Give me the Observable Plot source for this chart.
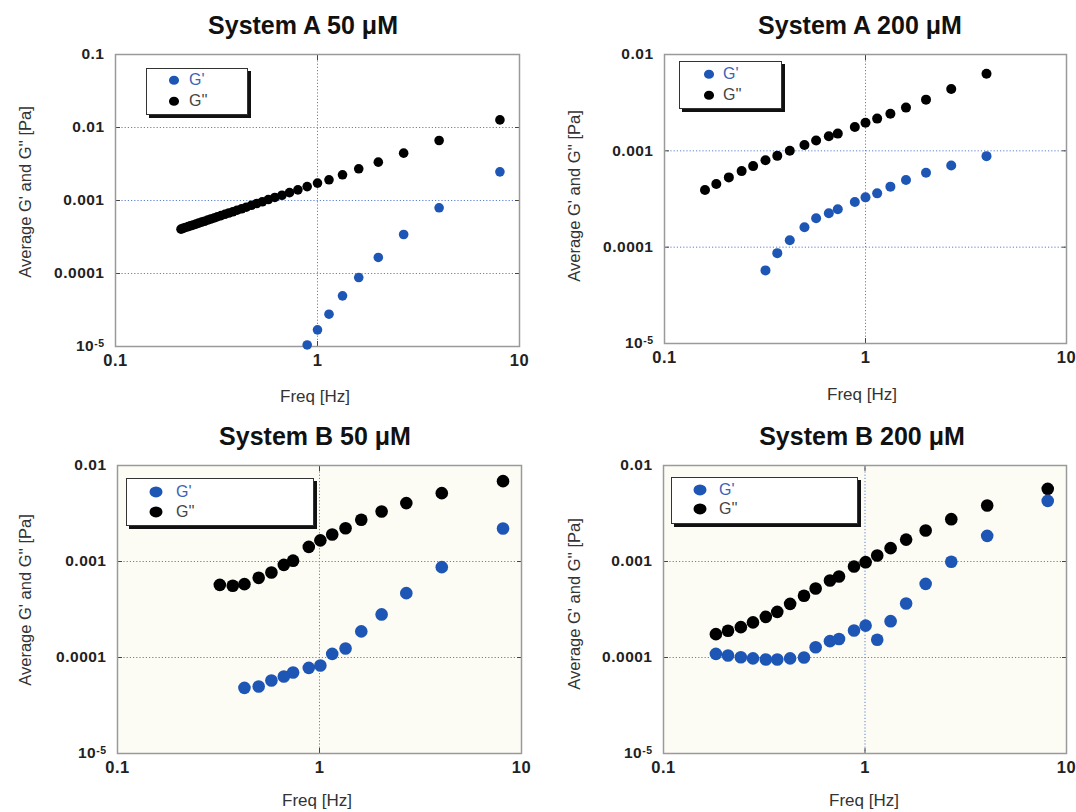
<!DOCTYPE html>
<html><head><meta charset="utf-8">
<script src="https://cdn.jsdelivr.net/npm/d3@7"></script>
<script src="https://cdn.jsdelivr.net/npm/@observablehq/plot@0.6"></script>
<style>
body{margin:0;background:#fff;font-family:"Liberation Sans",Arial,sans-serif;}
#root{position:relative;width:1076px;height:812px;overflow:hidden;background:#fff;}
.abs{position:absolute;}
.title{font-size:25px;font-weight:bold;color:#111;line-height:1;white-space:nowrap;transform:translateX(-50%);}
.ylab{font-size:16.5px;color:#333;white-space:nowrap;transform:translate(-50%,-50%) rotate(-90deg);line-height:1;}
.xlab{font-size:17px;color:#333;white-space:nowrap;transform:translate(-50%,-50%);line-height:1;}
.legend{background:#fff;border:1px solid #333;box-shadow:3px 3px 0 #111;}
.ldot{position:absolute;border-radius:50%;transform:translate(-50%,-50%);}
.ltxt{position:absolute;font-size:16px;line-height:1;transform:translateY(-50%);white-space:nowrap;}
</style>
</head><body><div id="root"></div>
<script>
// ---- Data ----
const panelTitles = ["System A 50 \u03bcM", "System A 200 \u03bcM", "System B 50 \u03bcM", "System B 200 \u03bcM"];
const seriesNames = ["G'", "G''"];
const xTicks = [0.1, 1, 10];

// System A 50 uM
const fA50_Gpp = [0.211,0.216,0.222,0.229,0.235,0.242,0.25,0.258,0.267,0.276,0.286,0.296,0.308,0.32,0.333,0.348,0.364,0.381,0.4,0.421,0.444,0.471,0.5,0.533,0.571,0.615,0.667,0.727,0.8,0.889,1.0,1.14,1.33,1.6,2.0,2.67,4.0,8.0];
const A50_Gpp = [0.000405,0.000415,0.000427,0.000438,0.00045,0.000462,0.000475,0.00049,0.000505,0.00052,0.00054,0.000557,0.000577,0.0006,0.00062,0.000647,0.000674,0.0007,0.000736,0.00077,0.00081,0.00086,0.00091,0.00096,0.00103,0.0011,0.00118,0.00128,0.0014,0.00155,0.00173,0.00192,0.00225,0.00272,0.00335,0.00445,0.00664,0.0127];
const fA50_Gp = [0.889,1.0,1.14,1.33,1.6,2.0,2.67,4.0,8.0];
const A50_Gp = [1.05e-5,1.69e-5,2.77e-5,4.94e-5,8.8e-5,1.66e-4,3.42e-4,7.94e-4,2.47e-3];

// System A 200 uM
const fA200_Gpp = [0.159,0.181,0.209,0.242,0.276,0.318,0.364,0.42,0.497,0.568,0.657,0.728,0.885,1.0,1.143,1.33,1.59,2.0,2.67,4.0];
const A200_Gpp = [0.000392,0.000452,0.00053,0.000616,0.000694,0.0008,0.000887,0.001,0.00115,0.00128,0.00142,0.00151,0.00177,0.00196,0.00216,0.00243,0.00281,0.0034,0.00438,0.00631];
const fA200_Gp = [0.318,0.364,0.42,0.497,0.568,0.657,0.728,0.885,1.0,1.143,1.33,1.59,2.0,2.67,4.0];
const A200_Gp = [5.74e-5,8.67e-5,1.18e-4,1.61e-4,2.0e-4,2.25e-4,2.47e-4,2.94e-4,3.29e-4,3.62e-4,4.25e-4,4.98e-4,5.92e-4,7.05e-4,8.81e-4];

// System B 50 uM
const fB50_Gpp = [0.321,0.372,0.425,0.5,0.578,0.666,0.74,0.885,1.01,1.156,1.346,1.61,2.03,2.69,4.03,8.1];
const B50_Gpp = [0.000571,0.000559,0.000581,0.000676,0.000768,0.000923,0.00102,0.00142,0.00166,0.00191,0.00222,0.00272,0.00332,0.00406,0.00515,0.00687];
const fB50_Gp = [0.425,0.5,0.578,0.666,0.74,0.885,1.01,1.156,1.346,1.61,2.03,2.69,4.03,8.1];
const B50_Gp = [4.83e-5,4.99e-5,5.75e-5,6.34e-5,6.98e-5,7.8e-5,8.26e-5,1.09e-4,1.24e-4,1.87e-4,2.81e-4,4.68e-4,8.73e-4,2.21e-3];

// System B 200 uM
const fB200 = [0.182,0.209,0.242,0.278,0.322,0.367,0.425,0.498,0.569,0.67,0.743,0.882,1.007,1.15,1.34,1.6,2.0,2.68,4.04,8.07];
const B200_Gpp = [1.75e-4,1.9e-4,2.07e-4,2.32e-4,2.65e-4,2.99e-4,3.62e-4,4.39e-4,5.24e-4,6.34e-4,6.98e-4,8.87e-4,9.84e-4,1.154e-3,1.377e-3,1.69e-3,2.1e-3,2.76e-3,3.83e-3,5.71e-3];
const B200_Gp = [1.09e-4,1.05e-4,1.007e-4,9.8e-5,9.53e-5,9.53e-5,9.8e-5,1.0e-4,1.28e-4,1.48e-4,1.56e-4,1.91e-4,2.15e-4,1.53e-4,2.39e-4,3.65e-4,5.85e-4,9.93e-4,1.85e-3,4.28e-3];

const yTicksA50 = [1e-5, 1e-4, 1e-3, 1e-2, 1e-1];
const yTicksOther = [1e-5, 1e-4, 1e-3, 1e-2];

// ---- Styling ----
const BLUE = "#1d56b5";
const BLACK = "#000000";
const GRID = "#5b7fd6";

const rows = (fs, gs) => fs.map((f, i) => ({f, g: gs[i]}));

const panels = [
  {title: panelTitles[0], left: 0, top: 40, W: 540, H: 370, mL: 115, mR: 21, mT: 14, mB: 64,
   yTicks: yTicksA50, r: 4.8, fill: "#ffffff",
   gpp: rows(fA50_Gpp, A50_Gpp), gp: rows(fA50_Gp, A50_Gp),
   titleX: 303, titleY: 13, yLab: [25, 192], xLab: [315, 396],
   legend: {x: 146, y: 68, w: 100, h: 45, dotX: 27, tx: 42, r1: 11, r2: 32, dr: 5}},
  {title: panelTitles[1], left: 540, top: 40, W: 536, H: 370, mL: 124, mR: 10, mT: 14, mB: 67,
   yTicks: yTicksOther, r: 5, fill: "#ffffff",
   gpp: rows(fA200_Gpp, A200_Gpp), gp: rows(fA200_Gp, A200_Gp),
   titleX: 860, titleY: 13, yLab: [574, 196], xLab: [862, 394],
   legend: {x: 679, y: 61, w: 101, h: 46, dotX: 29, tx: 43, r1: 12, r2: 33, dr: 5}},
  {title: panelTitles[2], left: 0, top: 450, W: 540, H: 362, mL: 117, mR: 19, mT: 15, mB: 59,
   yTicks: yTicksOther, r: 6.3, fill: "#fdfcf4",
   gpp: rows(fB50_Gpp, B50_Gpp), gp: rows(fB50_Gp, B50_Gp),
   titleX: 315, titleY: 424, yLab: [25, 600], xLab: [317, 800],
   legend: {x: 126, y: 478, w: 186, h: 46, dotX: 29, tx: 49, r1: 13, r2: 33, dr: 6.5}},
  {title: panelTitles[3], left: 540, top: 450, W: 536, H: 362, mL: 123, mR: 10, mT: 15, mB: 59,
   yTicks: yTicksOther, r: 6.3, fill: "#fdfcf4",
   gpp: rows(fB200, B200_Gpp), gp: rows(fB200, B200_Gp),
   titleX: 862, titleY: 424, yLab: [574, 604], xLab: [864, 800],
   legend: {x: 671, y: 477, w: 185, h: 45, dotX: 28, tx: 47, r1: 12, r2: 31, dr: 6.5}}
];

const root = document.getElementById("root");

function fmtY(d) {
  if (d === 1e-5) return "10^-5";
  return String(d);
}

for (const p of panels) {
  const yDom = [p.yTicks[0], p.yTicks[p.yTicks.length - 1]];
  const inner = p.yTicks.slice(1, -1);
  const plot = Plot.plot({
    width: p.W, height: p.H,
    marginLeft: p.mL, marginRight: p.mR, marginTop: p.mT, marginBottom: p.mB,
    style: {fontFamily: "'Liberation Sans', Arial, sans-serif", color: "#222", background: "transparent", overflow: "visible"},
    x: {type: "log", domain: [xTicks[0], xTicks[2]]},
    y: {type: "log", domain: yDom},
    marks: [
      Plot.frame({fill: p.fill, stroke: null}),
      Plot.gridX([1], {stroke: GRID, strokeOpacity: 1, strokeWidth: 1, strokeDasharray: "1.2,2"}),
      Plot.gridY(inner, {stroke: GRID, strokeOpacity: 1, strokeWidth: 1, strokeDasharray: "1.2,2"}),
      Plot.axisY(inner, {anchor: "left", tickSize: 5, dx: 5, tickFormat: () => "", stroke: "#444", label: null}),
      Plot.axisY(inner, {anchor: "right", tickSize: 5, dx: -5, tickFormat: () => "", stroke: "#444", label: null}),
      Plot.axisX([1], {anchor: "bottom", tickSize: 5, dy: -5, tickFormat: () => "", stroke: "#444", label: null}),
      Plot.axisX([1], {anchor: "top", tickSize: 5, dy: 5, tickFormat: () => "", stroke: "#444", label: null}),
      Plot.frame({stroke: "#9a9a9a", strokeWidth: 1.5}),
      Plot.axisX(xTicks, {anchor: "bottom", tickSize: 0, tickPadding: 8, tickFormat: d => String(d), label: null}),
      Plot.axisY(p.yTicks, {anchor: "left", tickSize: 0, tickPadding: 11, tickFormat: fmtY, label: null}),
      Plot.dot(p.gpp, {x: "f", y: "g", r: p.r, fill: BLACK, stroke: null}),
      Plot.dot(p.gp, {x: "f", y: "g", r: p.r, fill: BLUE, stroke: null})
    ]
  });
  plot.style.position = "absolute";
  plot.style.left = p.left + "px";
  plot.style.top = p.top + "px";
  const ns = "http://www.w3.org/2000/svg";
  plot.querySelectorAll("text").forEach(t => {
    if (!t.textContent) return;
    const g = t.closest("g[aria-label]");
    const lab = g ? g.getAttribute("aria-label") : "";
    const isX = lab.indexOf("x-axis") === 0;
    t.style.fontSize = isX ? "16.5px" : "15.5px";
    t.style.fontWeight = "bold";
    t.style.letterSpacing = "0.5px";
    t.style.fill = "#222";
    if (t.textContent === "10^-5") {
      t.textContent = "";
      const a = document.createElementNS(ns, "tspan"); a.textContent = "10";
      const b = document.createElementNS(ns, "tspan"); b.textContent = "-5";
      b.setAttribute("dy", "-0.45em"); b.style.fontSize = "10.5px";
      t.appendChild(a); t.appendChild(b);
    }
  });
  root.appendChild(plot);

  // title
  const tt = document.createElement("div");
  tt.className = "abs title"; tt.textContent = p.title;
  tt.style.left = p.titleX + "px"; tt.style.top = p.titleY + "px";
  root.appendChild(tt);
  // y label
  const yl = document.createElement("div");
  yl.className = "abs ylab"; yl.textContent = "Average G' and G'' [Pa]";
  yl.style.left = p.yLab[0] + "px"; yl.style.top = p.yLab[1] + "px";
  root.appendChild(yl);
  // x label
  const xl = document.createElement("div");
  xl.className = "abs xlab"; xl.textContent = "Freq [Hz]";
  xl.style.left = p.xLab[0] + "px"; xl.style.top = p.xLab[1] + "px";
  root.appendChild(xl);
  // legend
  const L = p.legend;
  const lg = document.createElement("div");
  lg.className = "abs legend";
  lg.style.left = L.x + "px"; lg.style.top = L.y + "px";
  lg.style.width = L.w + "px"; lg.style.height = L.h + "px";
  [[seriesNames[0], BLUE, "#3d62b5", L.r1], [seriesNames[1], BLACK, "#444", L.r2]].forEach(([name, c, tc, yy]) => {
    const d = document.createElement("span");
    d.className = "ldot";
    d.style.left = L.dotX + "px"; d.style.top = yy + "px";
    d.style.width = (2 * L.dr) + "px"; d.style.height = (2 * L.dr * 0.85) + "px";
    d.style.background = c;
    lg.appendChild(d);
    const s = document.createElement("span");
    s.className = "ltxt"; s.textContent = name; s.style.color = tc;
    s.style.left = L.tx + "px"; s.style.top = yy + "px";
    lg.appendChild(s);
  });
  root.appendChild(lg);
}
</script>
</body></html>
